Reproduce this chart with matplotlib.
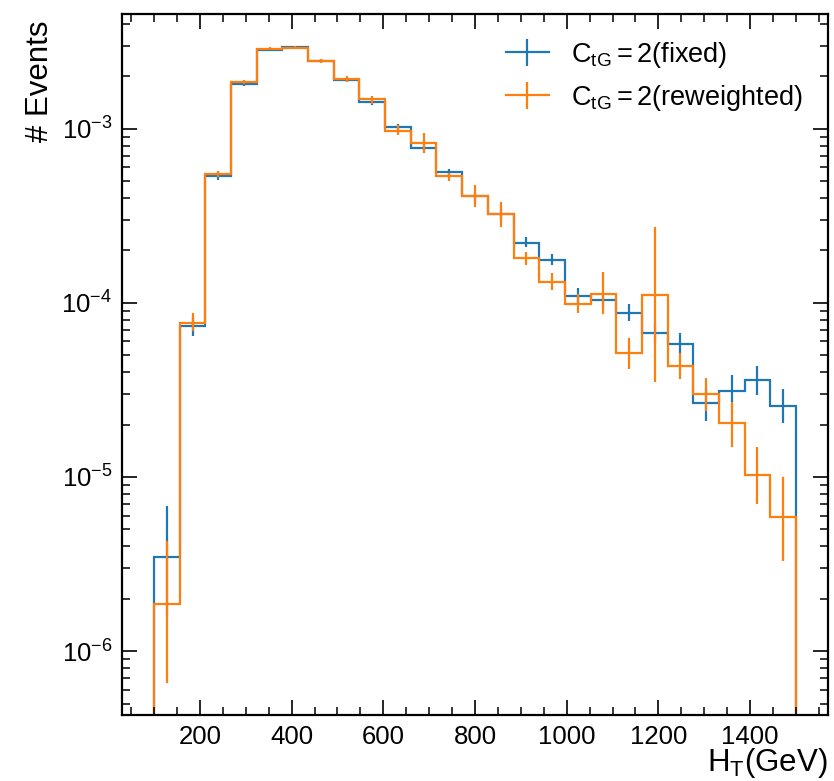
import matplotlib

matplotlib.use("Agg")
import matplotlib.pyplot as plt
import numpy as np
from matplotlib.legend_handler import HandlerTuple
from matplotlib.lines import Line2D
from matplotlib.ticker import LogLocator, MultipleLocator, NullFormatter

# H_T binning: 25 bins of 56 GeV between 100 and 1500
edges = np.linspace(100, 1500, 26)

# C_tG = 2 fixed sample
fixed = np.array([
    3.47e-6, 7.36e-5, 5.35e-4, 1.80e-3, 2.84e-3, 2.93e-3, 2.45e-3, 1.90e-3, 1.42e-3, 1.02e-3,
    7.80e-4, 5.64e-4, 4.10e-4, 3.23e-4, 2.22e-4, 1.77e-4, 1.10e-4, 1.035e-4, 8.80e-5, 6.73e-5,
    5.80e-5, 2.66e-5, 3.12e-5, 3.60e-5, 2.56e-5,
])
fixed_lo = np.array([
    1.60e-6, 6.45e-5, 5.06e-4, 1.76e-3, 2.80e-3, 2.89e-3, 2.40e-3, 1.85e-3, 1.37e-3, 0.98e-3,
    7.40e-4, 5.37e-4, 3.85e-4, 3.00e-4, 2.08e-4, 1.66e-4, 0.99e-4, 0.94e-4, 7.90e-5, 5.85e-5,
    5.00e-5, 2.10e-5, 2.70e-5, 2.95e-5, 2.03e-5,
])
fixed_hi = np.array([
    6.80e-6, 8.30e-5, 5.65e-4, 1.84e-3, 2.88e-3, 2.97e-3, 2.50e-3, 1.95e-3, 1.47e-3, 1.06e-3,
    8.20e-4, 5.90e-4, 4.35e-4, 3.45e-4, 2.40e-4, 1.92e-4, 1.22e-4, 1.13e-4, 9.90e-5, 7.80e-5,
    6.73e-5, 3.25e-5, 3.83e-5, 4.35e-5, 3.20e-5,
])

# C_tG = 2 reweighted sample
rew = np.array([
    1.87e-6, 7.71e-5, 5.47e-4, 1.85e-3, 2.88e-3, 2.92e-3, 2.46e-3, 1.92e-3, 1.48e-3, 0.975e-3,
    8.24e-4, 5.32e-4, 4.10e-4, 3.23e-4, 1.81e-4, 1.32e-4, 9.90e-5, 1.13e-4, 5.12e-5, 1.11e-4,
    4.35e-5, 2.98e-5, 2.03e-5, 1.026e-5, 5.89e-6,
])
rew_lo = np.array([
    6.55e-7, 6.90e-5, 5.25e-4, 1.80e-3, 2.83e-3, 2.87e-3, 2.40e-3, 1.85e-3, 1.38e-3, 0.92e-3,
    7.22e-4, 5.00e-4, 3.54e-4, 2.73e-4, 1.66e-4, 1.18e-4, 0.88e-4, 0.86e-4, 4.17e-5, 3.53e-5,
    3.65e-5, 2.40e-5, 1.49e-5, 7.00e-6, 3.30e-6,
])
rew_hi = np.array([
    4.27e-6, 8.70e-5, 5.70e-4, 1.90e-3, 2.93e-3, 2.97e-3, 2.52e-3, 2.00e-3, 1.54e-3, 1.05e-3,
    9.40e-4, 5.58e-4, 4.74e-4, 3.81e-4, 1.96e-4, 1.48e-4, 1.13e-4, 1.50e-4, 6.30e-5, 2.71e-4,
    5.12e-5, 3.72e-5, 2.70e-5, 1.49e-5, 1.00e-5,
])

labels = [r"$C_{tG} = 2$(fixed)", r"$C_{tG} = 2$(reweighted)"]
colors = ["#1f77b4", "#ff7f0e"]

plt.rcParams.update({
    "font.family": ["Liberation Sans", "DejaVu Sans"],
    "mathtext.fontset": "custom",
    "mathtext.rm": "Liberation Sans",
    "mathtext.it": "Liberation Sans:italic",
    "mathtext.bf": "Liberation Sans:bold",
    "mathtext.default": "regular",
    "axes.linewidth": 1.6,
    "xtick.direction": "in",
    "ytick.direction": "in",
    "xtick.top": True,
    "ytick.right": True,
    "xtick.major.size": 11,
    "ytick.major.size": 11,
    "xtick.minor.size": 5.5,
    "ytick.minor.size": 5.5,
    "xtick.major.width": 1.2,
    "ytick.major.width": 1.2,
    "xtick.minor.width": 1.1,
    "ytick.minor.width": 1.1,
    "xtick.labelsize": 18.5,
    "ytick.labelsize": 18.5,
    "xtick.major.pad": 6.5,
    "ytick.major.pad": 7,
})

fig = plt.figure(figsize=(8.34, 7.81), dpi=100)
ax = fig.add_axes([0.1463, 0.0839, 0.8465, 0.8982])

centers = 0.5 * (edges[:-1] + edges[1:])
handles = []
for vals, lo, hi, col in [(fixed, fixed_lo, fixed_hi, colors[0]), (rew, rew_lo, rew_hi, colors[1])]:
    ax.stairs(vals, edges, baseline=1e-12, color=col, linewidth=1.6)
    eb = ax.errorbar(centers, vals, yerr=[vals - lo, hi - vals], fmt="none", ecolor=col, elinewidth=1.6)
    handles.append((Line2D([], [], color=col, linewidth=1.6), eb))

ax.set_yscale("log")
ax.set_xlim(30, 1570)
ax.set_ylim(4.27e-7, 4.56e-3)
ax.xaxis.set_major_locator(MultipleLocator(200))
ax.xaxis.set_minor_locator(MultipleLocator(50))
ax.yaxis.set_minor_locator(LogLocator(base=10, subs=np.arange(2, 10)))
ax.yaxis.set_minor_formatter(NullFormatter())

ax.set_xlabel(r"H$_{T}$(GeV)", fontsize=22.5, loc="right", labelpad=-1.5)
ax.set_ylabel("# Events", fontsize=22.5, loc="top")
ax.yaxis.set_label_coords(-0.095, 0.991)

ax.legend(handles, labels, handler_map={tuple: HandlerTuple(ndivide=1)}, frameon=False,
          loc="upper right", fontsize=19.5, handlelength=1.6, handletextpad=0.8,
          borderaxespad=0.55, labelspacing=0.48)

fig.savefig("out.png", dpi=100)
